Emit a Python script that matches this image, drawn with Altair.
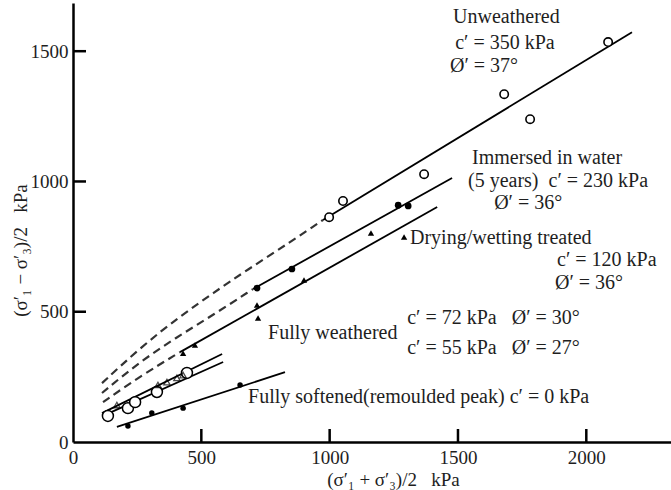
import altair as alt
import pandas as pd

FONT = "Liberation Serif"
INK = "#1e1e1e"

# ---- data (p' = (s1'+s3')/2, q = (s1'-s3')/2, kPa) ----
unw_s = [998, 1052, 1368, 1680, 1781, 2085]
unw_t = [863, 925, 1028, 1335, 1239, 1535]

imm_s = [717, 853, 1267, 1306]
imm_t = [591, 664, 909, 906]

dry_s = [429, 475, 717, 721, 900, 1161, 1290]
dry_t = [341, 372, 526, 476, 622, 802, 787]

fw_big_s = [136, 214, 242, 327, 444]
fw_big_t = [100, 130, 153, 192, 265]

fw_small_s = [171, 331, 366, 405, 429]
fw_small_t = [142, 219, 230, 246, 257]

soft_s = [214, 307, 429, 651]
soft_t = [61, 111, 130, 219]

# fitted envelopes (solid) - end points
solid_names = ["unw", "unw", "imm", "imm", "dry", "dry", "fw1", "fw1", "fw2", "fw2", "soft", "soft"]
solid_s = [974, 2178, 701, 1477, 417, 1419, 113, 581, 125, 585, 171, 826]
solid_t = [852, 1573, 587, 1013, 345, 902, 111, 338, 104, 307, 58, 268]

# curved (dashed) low-stress parts
dash_names = ["a"] * 7 + ["b"] * 5 + ["c"] * 3
dash_s = [113, 269, 417, 546, 678, 846, 974, 113, 250, 400, 550, 701, 117, 261, 417]
dash_t = [226, 368, 482, 572, 660, 767, 852, 188, 300, 400, 490, 587, 153, 252, 345]

x_ticks = [500, 1000, 1500, 2000]
y_ticks = [500, 1000, 1500]

NB = "\u00a0"
ann_text = [
    "Unweathered",
    "c′ = 350 kPa",
    "Ø′ = 37°",
    "Immersed in water",
    f"(5 years){NB}{NB}c′ = 230 kPa",
    "Ø′ = 36°",
    "Drying/wetting treated",
    "c′ = 120 kPa",
    "Ø′ = 36°",
    f"c′ = 72 kPa{NB}{NB}{NB}Ø′ = 30°",
    f"c′ = 55 kPa{NB}{NB}{NB}Ø′ = 27°",
    "Fully weathered",
    "Fully softened(remoulded peak) c′ = 0 kPa",
]
ann_s = [1481, 1489, 1469, 1555, 1539, 1641, 1313, 1886, 1878, 1302, 1302, 760, 682]
ann_t = [1631, 1531, 1443, 1090, 1002, 917, 783, 698, 610, 476, 361, 418, 173]

XDOM = [0, 2330]
YDOM = [0, 1685]

xs = alt.Scale(domain=XDOM, nice=False, zero=False)
ys = alt.Scale(domain=YDOM, nice=False, zero=False)

X_TITLE = "(σ′₁ + σ′₃)/2" + NB * 3 + "kPa"
Y_TITLE = "(σ′₁ − σ′₃)/2" + NB * 3 + "kPa"

xax = alt.Axis(values=[0, 500, 1000, 1500, 2000], format="d", ticks=False, grid=False,
               domainColor="black", domainWidth=2.5, labelFont=FONT, labelFontSize=19,
               labelColor=INK, labelPadding=6, title=X_TITLE, titleFont=FONT,
               titleFontSize=19, titleFontWeight="normal", titleColor=INK,
               titleX=320, titleY=37, titleBaseline="middle", labelFlush=False)
yax = alt.Axis(values=[0, 500, 1000, 1500], format="d", ticks=False, grid=False,
               domainColor="black", domainWidth=2.5, labelFont=FONT, labelFontSize=19,
               labelColor=INK, labelPadding=5, title=Y_TITLE, titleFont=FONT,
               titleFontSize=19, titleFontWeight="normal", titleColor=INK,
               titleX=-53, titleY=247, titleBaseline="middle", titleAlign="center",
               labelFlush=False)

solid_df = pd.DataFrame({"s": solid_s, "t": solid_t, "g": solid_names})
dash_df = pd.DataFrame({"s": dash_s, "t": dash_t, "g": dash_names,
                        "o": list(range(len(dash_s)))})

base_axes = alt.Chart(pd.DataFrame({"s": [0], "t": [0]})).mark_point(opacity=0).encode(
    x=alt.X("s:Q", scale=xs, axis=xax),
    y=alt.Y("t:Q", scale=ys, axis=yax),
)

solid = alt.Chart(solid_df).mark_line(color="black", strokeWidth=1.8).encode(
    x=alt.X("s:Q", scale=xs), y=alt.Y("t:Q", scale=ys), detail="g:N")

dashed = alt.Chart(dash_df).mark_line(color="#333", strokeWidth=2.2, strokeDash=[8, 5],
                                      interpolate="basis").encode(
    x=alt.X("s:Q", scale=xs), y=alt.Y("t:Q", scale=ys), detail="g:N", order="o:Q")


def pts(sv, tv, **kw):
    return alt.Chart(pd.DataFrame({"s": sv, "t": tv})).mark_point(**kw).encode(
        x=alt.X("s:Q", scale=xs), y=alt.Y("t:Q", scale=ys))


p_unw = pts(unw_s, unw_t, shape="circle", size=70, filled=False, color="black",
            strokeWidth=1.6, fill="white", fillOpacity=1)
p_imm = pts(imm_s, imm_t, shape="circle", size=45, filled=True, color="black", opacity=1)
p_dry = pts(dry_s, dry_t, shape="triangle-up", size=40, filled=True, color="black", opacity=1)
p_fwb = pts(fw_big_s, fw_big_t, shape="circle", size=120, filled=False, color="black",
            strokeWidth=1.5, fill="white", fillOpacity=1)
p_fws = pts(fw_small_s, fw_small_t, shape="triangle-up", size=40, filled=False,
            color="black", strokeWidth=1.3)
p_soft = pts(soft_s, soft_t, shape="circle", size=30, filled=True, color="black", opacity=1)

xt = alt.Chart(pd.DataFrame({"s": x_ticks})).mark_rule(color="black", strokeWidth=2.5).encode(
    x=alt.X("s:Q", scale=xs), y=alt.value(439), y2=alt.value(426))
yt = alt.Chart(pd.DataFrame({"t": y_ticks})).mark_rule(color="black", strokeWidth=2.5).encode(
    y=alt.Y("t:Q", scale=ys), x=alt.value(0), x2=alt.value(13))

ann = alt.Chart(pd.DataFrame({"s": ann_s, "t": ann_t, "txt": ann_text})).mark_text(
    font=FONT, fontSize=20, color=INK, align="left", baseline="middle").encode(
    x=alt.X("s:Q", scale=xs), y=alt.Y("t:Q", scale=ys), text="txt:N")

chart = alt.layer(base_axes, dashed, solid, p_unw, p_imm, p_dry, p_fwb, p_fws, p_soft,
                  xt, yt, ann).properties(
    width=598, height=439,
    autosize=alt.AutoSizeParams(type="none"),
    padding={"left": 73, "top": 3, "right": 0, "bottom": 48},
    background="white",
).configure_view(stroke=None)

chart.save("out.html", embed_options={"renderer": "svg", "actions": False})
